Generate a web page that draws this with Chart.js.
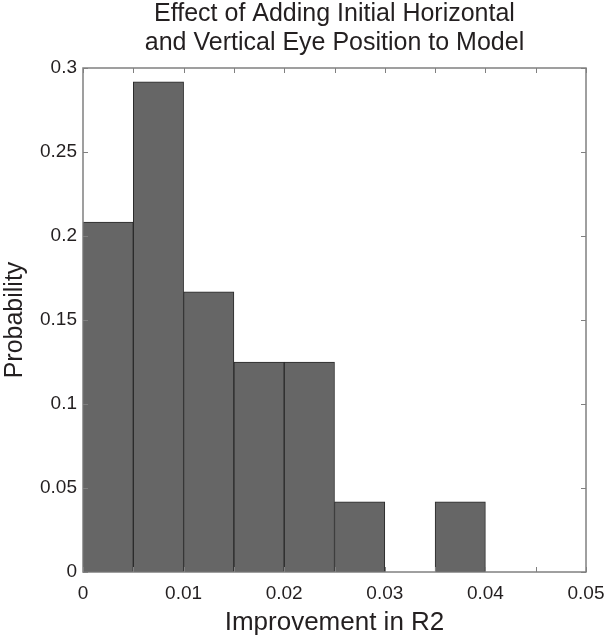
<!DOCTYPE html>
<html>
<head>
<meta charset="utf-8">
<script src="https://cdn.jsdelivr.net/npm/chart.js@4.4.0/dist/chart.umd.min.js"></script>
<style>
    html, body { margin: 0; padding: 0; background: #ffffff; }
    #wrap { width: 605px; height: 639px; }
</style>
</head>
<body>
<div id="wrap"><canvas id="grafico" width="605" height="639"></canvas></div>
<script>
// centros dos bins do histograma e probabilidades
const binCenters = [0.0025, 0.0075, 0.0125, 0.0175, 0.0225, 0.0275, 0.0325, 0.0375, 0.0425, 0.0475];
const probabilities = [0.2083, 0.2917, 0.1667, 0.125, 0.125, 0.0417, 0, 0.0417, 0, 0];

const xTickValues = [0, 0.005, 0.01, 0.015, 0.02, 0.025, 0.03, 0.035, 0.04, 0.045, 0.05];
const xTickLabels = ["0", "", "0.01", "", "0.02", "", "0.03", "", "0.04", "", "0.05"];
const yTickValues = [0, 0.05, 0.1, 0.15, 0.2, 0.25, 0.3];
const yTickLabels = ["0", "0.05", "0.1", "0.15", "0.2", "0.25", "0.3"];

const tituloLinhas = ['Effect of Adding Initial Horizontal', 'and Vertical Eye Position to Model'];

const fonte = "'Liberation Sans', Arial, Helvetica, sans-serif";
const corTexto = "#231f20";
const corEixo = "#808080";

// titulo centralizado sobre a area do grafico (nao sobre o canvas)
const tituloPlugin = {
    id: 'tituloArea',
    afterDraw(chart) {
        const ctx = chart.ctx;
        const area = chart.chartArea;
        const cx = (area.left + area.right) / 2;
        ctx.save();
        ctx.fillStyle = corTexto;
        ctx.font = "25px " + fonte;
        ctx.textAlign = 'center';
        ctx.textBaseline = 'alphabetic';
        ctx.fillText(tituloLinhas[0], cx, 21);
        ctx.fillText(tituloLinhas[1], cx, 50);
        ctx.restore();
    }
};

// desenha a moldura e os ticks para dentro, como no matlab
const molduraPlugin = {
    id: 'moldura',
    afterDatasetsDraw(chart) {
        const ctx = chart.ctx;
        const area = chart.chartArea;
        const x = chart.scales.x;
        const y = chart.scales.y;
        const tam = 5;

        ctx.save();
        ctx.strokeStyle = corEixo;
        ctx.lineWidth = 1.5;
        ctx.strokeRect(area.left, area.top, area.right - area.left, area.bottom - area.top);

        ctx.lineWidth = 1;
        ctx.beginPath();
        xTickValues.forEach(v => {
            const px = Math.round(x.getPixelForValue(v)) + 0.5;
            ctx.moveTo(px, area.bottom);
            ctx.lineTo(px, area.bottom - tam);
            ctx.moveTo(px, area.top);
            ctx.lineTo(px, area.top + tam);
        });
        yTickValues.forEach(v => {
            const py = Math.round(y.getPixelForValue(v)) + 0.5;
            ctx.moveTo(area.left, py);
            ctx.lineTo(area.left + tam, py);
            ctx.moveTo(area.right, py);
            ctx.lineTo(area.right - tam, py);
        });
        ctx.stroke();
        ctx.restore();
    }
};

const ctx = document.getElementById('grafico');

new Chart(ctx, {
    type: 'bar',
    data: {
        datasets: [{
            data: binCenters.map((c, i) => ({ x: c, y: probabilities[i] })),
            backgroundColor: '#666666',
            borderColor: '#2a2a2a',
            borderWidth: 1,
            borderSkipped: false,
            barPercentage: 1,
            categoryPercentage: 1
        }]
    },
    options: {
        responsive: false,
        animation: false,
        layout: { padding: { top: 68, right: 19, bottom: 1, left: 0 } },
        plugins: {
            legend: { display: false },
            tooltip: { enabled: false },
            title: { display: false }
        },
        scales: {
            x: {
                type: 'linear',
                min: 0,
                max: 0.05,
                offset: false,
                afterBuildTicks: scale => {
                    scale.ticks = xTickValues.map(v => ({ value: v }));
                },
                afterFit: scale => {
                    scale.height = 66;
                    scale.paddingLeft = 0;
                    scale.paddingRight = 0;
                },
                ticks: {
                    autoSkip: false,
                    maxRotation: 0,
                    padding: 10,
                    color: corTexto,
                    font: { family: fonte, size: 19 },
                    callback: (v, i) => xTickLabels[i]
                },
                grid: { display: false, drawTicks: false },
                border: { display: false },
                title: {
                    display: true,
                    text: 'Improvement in R2',
                    color: corTexto,
                    font: { family: fonte, size: 26 },
                    padding: { top: 0, bottom: 0 }
                }
            },
            y: {
                min: 0,
                max: 0.3,
                afterBuildTicks: scale => {
                    scale.ticks = yTickValues.map(v => ({ value: v }));
                },
                afterFit: scale => {
                    scale.width = 83;
                    scale.paddingTop = 0;
                    scale.paddingBottom = 0;
                },
                ticks: {
                    autoSkip: false,
                    padding: 6,
                    color: corTexto,
                    font: { family: fonte, size: 19 },
                    callback: (v, i) => yTickLabels[i]
                },
                grid: { display: false, drawTicks: false },
                border: { display: false },
                title: {
                    display: true,
                    text: 'Probability',
                    color: corTexto,
                    font: { family: fonte, size: 25 },
                    padding: { top: 0, bottom: 0 }
                }
            }
        }
    },
    plugins: [molduraPlugin, tituloPlugin]
});
</script>
</body>
</html>
